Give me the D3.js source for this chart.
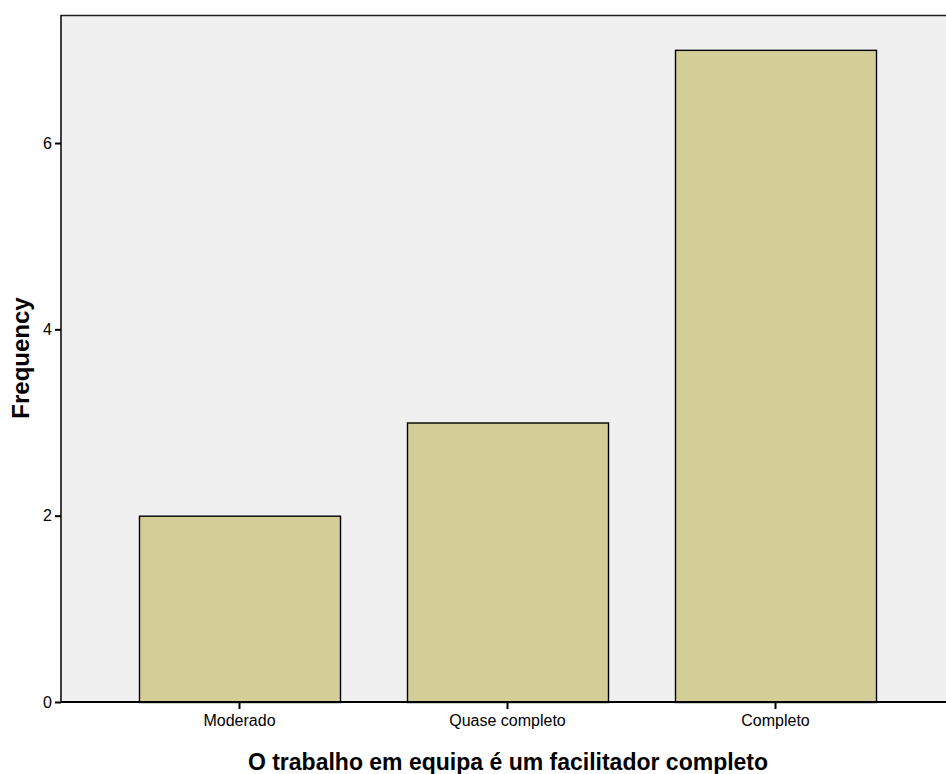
<!DOCTYPE html>
<html><head><meta charset="utf-8">
<script src="https://cdn.jsdelivr.net/npm/d3@7"></script>
<style>body{margin:0;background:#fff}svg{display:block}text{font-family:"Liberation Sans",Arial,sans-serif}</style>
</head><body>
<svg id="c" width="946" height="774"></svg>
<script>
const categories = ["Moderado", "Quase completo", "Completo"];
const frequencies = [2, 3, 7];
const yTicks = [0, 2, 4, 6];
const xTitle = "O trabalho em equipa é um facilitador completo";
const yTitle = "Frequency";

const svg = d3.select("#c");
const pL = 61, pT = 15, pB = 702, pR = 954;
const x = d3.scaleBand().domain(categories).range([pL, pR]).paddingInner(0.25).paddingOuter(0.291);
const y = d3.scaleLinear().domain([0, 7.374]).range([pB, pT]);

svg.append("rect").attr("x", pL).attr("y", pT).attr("width", pR - pL).attr("height", pB - pT)
  .attr("fill", "#f0f0f0");

svg.selectAll(".bar").data(frequencies).enter().append("rect")
  .attr("x", (d, i) => x(categories[i]) + 0.5)
  .attr("y", d => y(d) + 0.5)
  .attr("width", x.bandwidth())
  .attr("height", d => pB - y(d))
  .attr("fill", "#d3ce97").attr("stroke", "#000").attr("stroke-width", 1.4);

svg.append("line").attr("x1", pL).attr("x2", pR).attr("y1", pT + 0.5).attr("y2", pT + 0.5).attr("stroke", "#222").attr("stroke-width", 1.5);

const ya = svg.append("g").attr("transform", `translate(${pL},0)`)
  .call(d3.axisLeft(y).tickValues(yTicks).tickSize(6).tickPadding(3).tickSizeOuter(0));
ya.select(".domain").attr("stroke", "#000").attr("stroke-width", 1.5).attr("d", `M0,${pT}V${pB}`);
ya.selectAll(".tick line").attr("stroke", "#000").attr("stroke-width", 2);
ya.selectAll(".tick text").attr("font-size", 16).attr("fill", "#000").attr("font-family", "Liberation Sans, Arial, sans-serif");

const xa = svg.append("g").attr("transform", `translate(0,${pB})`)
  .call(d3.axisBottom(x).tickSize(7).tickPadding(6).tickSizeOuter(0));
xa.select(".domain").attr("stroke", "#000").attr("stroke-width", 2).attr("d", `M${pL},0H${pR}`);
xa.selectAll(".tick line").attr("stroke", "#000").attr("stroke-width", 2);
xa.selectAll(".tick text").attr("font-size", 16).attr("fill", "#000").attr("font-family", "Liberation Sans, Arial, sans-serif");

svg.append("text").attr("x", 508).attr("y", 770).attr("text-anchor", "middle")
  .attr("font-size", 23).attr("font-weight", "bold").text(xTitle);
svg.append("text").attr("transform", "translate(29,358) rotate(-90)").attr("text-anchor", "middle")
  .attr("font-size", 24).attr("font-weight", "bold").text(yTitle);
</script>
</body></html>
